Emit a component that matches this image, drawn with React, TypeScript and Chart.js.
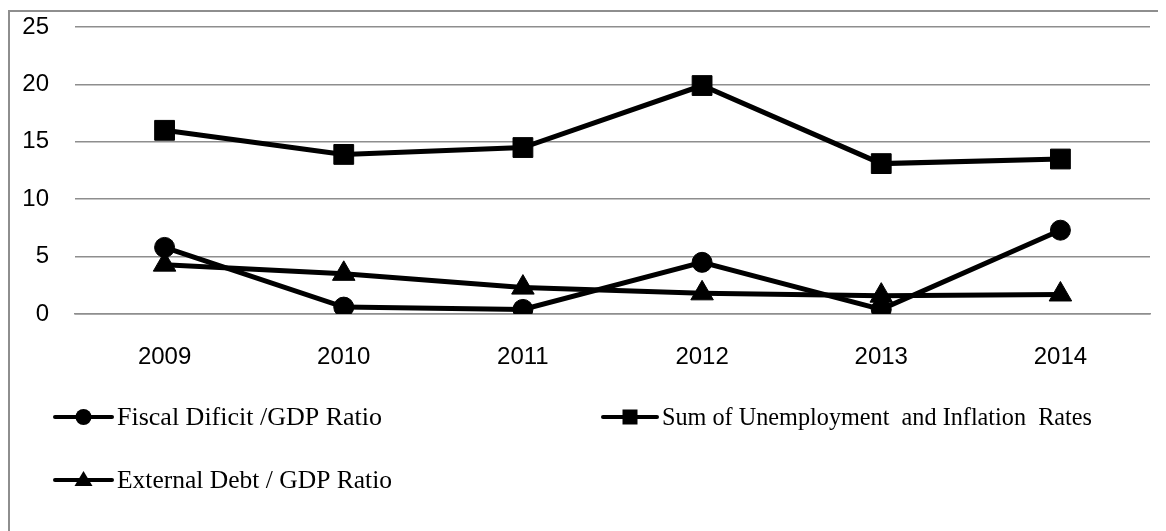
import React, { useEffect, useRef } from "react";
import { Chart, registerables } from "chart.js";

Chart.register(...registerables);

const years = ["2009", "2010", "2011", "2012", "2013", "2014"];
const fiscalDeficit = [5.8, 0.6, 0.4, 4.5, 0.4, 7.3];
const unemploymentInflation = [16.0, 13.9, 14.5, 19.9, 13.1, 13.5];
const externalDebt = [4.3, 3.5, 2.3, 1.8, 1.6, 1.7];

const seriesLabels = [
  "Fiscal Dificit /GDP Ratio",
  "Sum of Unemployment  and Inflation  Rates",
  "External Debt / GDP Ratio",
];

const CANVAS_W = 1156;
const CANVAS_H = 519;

const legendPlugin = {
  id: "customLegend",
  afterDraw(chart: any) {
    const ctx = chart.ctx;
    const items = [
      { x: 45, len: 57, y: 405, style: "circle", maxW: 275 },
      { x: 593, len: 54, y: 405, style: "rect", maxW: 430 },
      { x: 45, len: 57, y: 468, style: "triangle", maxW: 275 },
    ];
    ctx.save();
    chart.data.datasets.forEach((ds: any, i: number) => {
      const it = items[i];
      const cx = it.x + it.len / 2;
      ctx.strokeStyle = "#000";
      ctx.fillStyle = "#000";
      ctx.lineWidth = 4;
      ctx.lineCap = "round";
      ctx.beginPath();
      ctx.moveTo(it.x, it.y);
      ctx.lineTo(it.x + it.len, it.y);
      ctx.stroke();
      ctx.beginPath();
      if (it.style === "circle") {
        ctx.arc(cx, it.y, 8, 0, Math.PI * 2);
      } else if (it.style === "rect") {
        ctx.rect(cx - 7.5, it.y - 7.5, 15, 15);
      } else {
        ctx.moveTo(cx, it.y - 9);
        ctx.lineTo(cx + 9, it.y + 6);
        ctx.lineTo(cx - 9, it.y + 6);
        ctx.closePath();
      }
      ctx.fill();
      ctx.font = "26px 'Liberation Serif', 'Times New Roman', serif";
      ctx.textBaseline = "middle";
      ctx.textAlign = "left";
      ctx.fillText(ds.label, it.x + it.len + 5, it.y + 1, it.maxW);
    });
    ctx.restore();
  },
};

export default function App() {
  const canvasRef = useRef<HTMLCanvasElement | null>(null);

  useEffect(() => {
    document.documentElement.style.overflow = "hidden";
    document.body.style.overflow = "hidden";
    const canvas = canvasRef.current;
    if (!canvas) return;
    const tickFont = { family: "'Liberation Sans', Arial, sans-serif", size: 24 };
    const chart = new Chart(canvas, {
      type: "line",
      data: {
        labels: years,
        datasets: [
          {
            label: seriesLabels[0],
            data: fiscalDeficit,
            borderColor: "#000",
            backgroundColor: "#000",
            borderWidth: 5,
            pointStyle: "circle",
            pointRadius: 10,
            pointBorderWidth: 1,
            pointBackgroundColor: "#000",
            pointBorderColor: "#000",
            tension: 0,
          },
          {
            label: seriesLabels[1],
            data: unemploymentInflation,
            borderColor: "#000",
            backgroundColor: "#000",
            borderWidth: 5,
            pointStyle: "rect",
            pointRadius: 14,
            pointBorderWidth: 1,
            pointBackgroundColor: "#000",
            pointBorderColor: "#000",
            tension: 0,
          },
          {
            label: seriesLabels[2],
            data: externalDebt,
            borderColor: "#000",
            backgroundColor: "#000",
            borderWidth: 5,
            pointStyle: "triangle",
            pointRadius: 13,
            pointBorderWidth: 1,
            pointBackgroundColor: "#000",
            pointBorderColor: "#000",
            tension: 0,
          },
        ],
      },
      options: {
        responsive: false,
        animation: false,
        layout: { padding: { top: 14, right: 16, left: 0, bottom: 0 } },
        plugins: {
          legend: { display: false },
          tooltip: { enabled: false },
        },
        scales: {
          x: {
            offset: true,
            grid: { display: false, drawTicks: false },
            border: { display: true, color: "#8e8e8e", width: 1.5 },
            ticks: {
              color: "#000",
              padding: 29,
              font: tickFont,
            },
            afterFit: (scale: any) => {
              scale.height = 217;
              scale.paddingLeft = 0;
              scale.paddingRight = 0;
            },
          },
          y: {
            min: 0,
            max: 25,
            grid: { color: "#8e8e8e", lineWidth: 1.5, drawTicks: false },
            border: { display: false },
            ticks: {
              stepSize: 5,
              color: "#000",
              padding: 26,
              font: tickFont,
            },
            afterFit: (scale: any) => {
              scale.width = 65;
              scale.paddingTop = 0;
              scale.paddingBottom = 0;
            },
          },
        },
      },
      plugins: [legendPlugin],
    });
    return () => chart.destroy();
  }, []);

  return (
    <div
      style={{
        marginTop: 2,
        width: CANVAS_W + 2,
        height: CANVAS_H + 2,
        borderLeft: "2px solid #8e8e8e",
        borderTop: "2px solid #8e8e8e",
        boxSizing: "border-box",
        background: "#fff",
      }}
    >
      <canvas
        ref={canvasRef}
        width={CANVAS_W}
        height={CANVAS_H}
        style={{ display: "block", width: CANVAS_W, height: CANVAS_H }}
      />
    </div>
  );
}
